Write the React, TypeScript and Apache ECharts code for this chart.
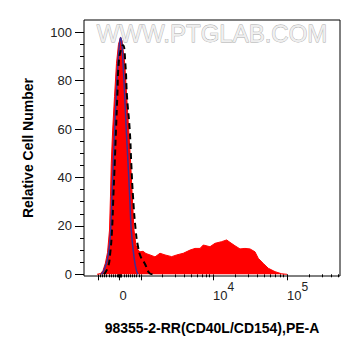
import React, { useEffect, useRef } from 'react';
import * as echarts from 'echarts';

// Display positions (decade units of the biexponential axis) and % counts
const sampleX = [2.422, 2.469, 2.503, 2.535, 2.565, 2.592, 2.605, 2.616, 2.635, 2.660, 2.687, 2.714, 2.741, 2.762, 2.776, 2.799, 2.826, 2.853, 2.880, 2.902, 2.925, 2.952, 2.980, 3.007, 3.048, 3.088, 3.143, 3.211, 3.279, 3.347, 3.438, 3.506, 3.596, 3.687, 3.755, 3.823, 3.868, 3.959, 4.027, 4.118, 4.186, 4.231, 4.299, 4.367, 4.435, 4.503, 4.571, 4.616, 4.684, 4.752, 4.844, 4.935, 5.007];
const sampleY = [0, 0.3, 1.5, 4.5, 9, 18.3, 32, 45.9, 59.6, 73.4, 87.2, 95, 97.8, 96.5, 93, 87.2, 73.4, 59.6, 45.9, 32, 18.3, 12, 10, 9.3, 9.5, 8.6, 8, 7.2, 8.7, 8, 7.3, 8, 8.7, 10, 10.7, 10.7, 12.1, 11.4, 12.8, 13.5, 14.2, 13.2, 11.8, 10.5, 10.7, 10.5, 9.3, 6.6, 4.5, 2.5, 1.1, 0.2, 0];

const isotypeX = [2.480, 2.517, 2.571, 2.608, 2.626, 2.644, 2.663, 2.684, 2.707, 2.728, 2.744, 2.762, 2.776, 2.799, 2.820, 2.844, 2.867, 2.888, 2.925, 2.956, 2.980];
const isotypeY = [0, 1.8, 7.3, 18.3, 32, 45.9, 59.6, 73.4, 87.2, 95.5, 97.9, 94.5, 87.2, 73.4, 59.6, 45.9, 32, 18.3, 7.3, 1.8, 0];

const controlX = [2.517, 2.571, 2.599, 2.626, 2.644, 2.663, 2.680, 2.698, 2.717, 2.748, 2.776, 2.807, 2.830, 2.867, 2.888, 2.912, 2.948, 2.980, 3.020, 3.071, 3.139, 3.184];
const controlY = [0, 3, 8, 18.3, 32, 45.9, 59.6, 73.4, 87.2, 93, 94.7, 87.2, 73.4, 59.6, 45.9, 32, 18.3, 11.4, 7, 4.5, 0.4, 0];

const yMajorTicks = [0, 20, 40, 60, 80, 100];
const yMinorTicks = [5, 10, 15, 25, 30, 35, 45, 50, 55, 65, 70, 75, 85, 90, 95];
const xMajorTicks = [-1000, 0, 1000, 10000, 100000];
const xLabelTicks = [0, 10000, 100000];
const xMinorTicks = [
  -900, -800, -700, -600, -500, -400, -300, -200, -100, -75, -50, -25, 25, 50, 75,
  100, 200, 300, 400, 500, 600, 700, 800, 900,
  2000, 3000, 4000, 5000, 6000, 7000, 8000, 9000,
  20000, 30000, 40000, 50000, 60000, 70000, 80000, 90000,
  200000, 300000, 400000, 500000,
];

// biexponential display transform (calibrated axis scale)
function disp(v: number): number {
  if (Math.abs(v) <= 1000) return 2.728 + (v / 1000) * 0.292;
  if (v <= 10000) return 3.02 + Math.log10(v / 1000) * 0.98;
  if (v <= 100000) return 4.0 + Math.log10(v / 10000) * 1.007;
  return 5.007 + Math.log10(v / 100000) * 1.007;
}

const X_MIN = 2.2449;
const X_MAX = 5.728;
const Y_MIN = -0.7;
const Y_MAX = 105.1;
const FONT = '"Liberation Sans", Arial, sans-serif';

function labelFor(val: number): string {
  const t = xLabelTicks.find((v) => Math.abs(disp(v) - val) < 1e-6);
  if (t === undefined) return '';
  if (t === 0) return '{b|0}{s| }';
  return '{b|10}{s|' + Math.round(Math.log10(t)) + '}';
}

export default function App() {
  const ref = useRef<HTMLDivElement>(null);
  useEffect(() => {
    document.body.style.margin = '0';
    const chart = echarts.init(ref.current!, null, { renderer: 'svg' });
    const pairs = (xs: number[], ys: number[]) => xs.map((x, i) => [x, ys[i]]);
    chart.setOption({
      animation: false,
      backgroundColor: '#ffffff',
      grid: [
        { left: 84, top: 20, width: 256, height: 256, show: true, borderColor: '#000', borderWidth: 1, backgroundColor: 'transparent' },
        { left: 84, top: 20, width: 256, height: 256, show: false },
      ],
      xAxis: [
        {
          type: 'value', gridIndex: 0, min: X_MIN, max: X_MAX,
          name: '98355-2-RR(CD40L/CD154),PE-A', nameLocation: 'middle', nameGap: 45,
          nameTextStyle: { fontFamily: FONT, fontWeight: 'bold', fontSize: 14, color: '#000' },
          axisLine: { show: false },
          splitLine: { show: false },
          axisTick: { show: true, length: 6, lineStyle: { color: '#000', width: 1 }, customValues: xMajorTicks.map(disp) },
          axisLabel: {
            show: true, margin: 5, align: 'left',
            customValues: xLabelTicks.map(disp),
            formatter: (v: number) => labelFor(v),
            rich: {
              b: { fontFamily: FONT, fontSize: 13, color: '#222', verticalAlign: 'bottom' },
              s: { fontFamily: FONT, fontSize: 12, color: '#222', verticalAlign: 'bottom', padding: [0, 0, 9, 0] },
            },
          },
        },
        {
          type: 'value', gridIndex: 1, min: X_MIN, max: X_MAX,
          axisLine: { show: false }, splitLine: { show: false },
          axisLabel: { show: false },
          axisTick: { show: true, length: 3, lineStyle: { color: '#000', width: 1 }, customValues: xMinorTicks.map(disp) },
        },
      ],
      yAxis: [
        {
          type: 'value', gridIndex: 0, min: Y_MIN, max: Y_MAX,
          name: 'Relative Cell Number', nameLocation: 'middle', nameGap: 49,
          nameTextStyle: { fontFamily: FONT, fontWeight: 'bold', fontSize: 14, color: '#000' },
          axisLine: { show: false }, splitLine: { show: false },
          axisTick: { show: true, length: 9, lineStyle: { color: '#000', width: 1 }, customValues: yMajorTicks },
          axisLabel: { show: true, margin: 12, customValues: yMajorTicks, fontFamily: FONT, fontSize: 13, color: '#222' },
        },
        {
          type: 'value', gridIndex: 1, min: Y_MIN, max: Y_MAX,
          axisLine: { show: false }, splitLine: { show: false },
          axisLabel: { show: false },
          axisTick: { show: true, length: 4, lineStyle: { color: '#000', width: 1 }, customValues: yMinorTicks },
        },
      ],
      graphic: [
        {
          type: 'text', x: 212, y: 33, z: 100, silent: true,
          style: {
            text: 'WWW.PTGLAB.COM', font: '24px ' + FONT, fill: '#efefef', stroke: '#a8a8a8', lineWidth: 0.8,
            textAlign: 'center', textVerticalAlign: 'middle',
          },
        },
      ],
      series: [
        {
          type: 'line', name: 'sample', xAxisIndex: 0, yAxisIndex: 0, data: pairs(sampleX, sampleY),
          symbol: 'none', smooth: false, z: 2,
          lineStyle: { color: '#ff0000', width: 1 },
          areaStyle: { color: '#ff0000', opacity: 1 },
        },
        {
          type: 'line', name: 'isotype', xAxisIndex: 0, yAxisIndex: 0, data: pairs(isotypeX, isotypeY),
          symbol: 'none', smooth: true, z: 3,
          lineStyle: { color: '#3b2f96', width: 1.5 },
        },
        {
          type: 'line', name: 'control', xAxisIndex: 0, yAxisIndex: 0, data: pairs(controlX, controlY),
          symbol: 'none', smooth: true, z: 4,
          lineStyle: { color: '#000', width: 2, type: [6, 4] },
        },
      ],
    });
    return () => chart.dispose();
  }, []);
  return <div ref={ref} style={{ width: 361, height: 356 }} />;
}
